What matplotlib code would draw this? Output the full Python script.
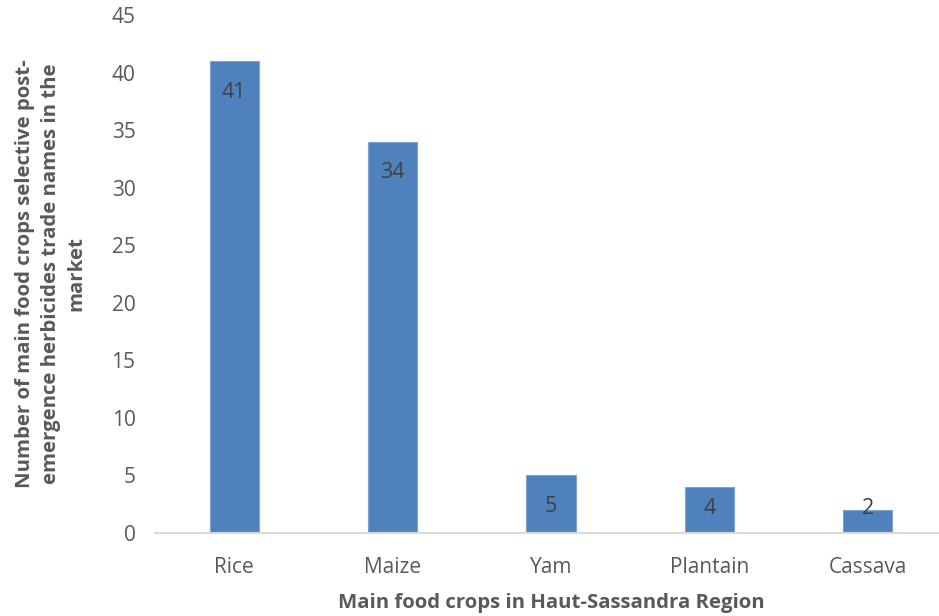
import matplotlib.pyplot as plt

crops = ["Rice", "Maize", "Yam", "Plantain", "Cassava"]
counts = [41, 34, 5, 4, 2]
yticks = list(range(0, 50, 5))

plt.rcParams['font.family'] = ['Open Sans', 'DejaVu Sans']

fig = plt.figure(figsize=(9.39, 6.16), dpi=100)
ax = fig.add_axes([0.165, 0.1347, 0.8435, 0.8409])

x = range(len(crops))
ax.bar(x, counts, width=0.31, color="#4F81BD", edgecolor="#7FA3D3", linewidth=0.8, zorder=2)

# value labels sit just inside the top of each bar, but never below ~2.2
for i, v in enumerate(counts):
    ax.text(i, max(v - 2.7, 2.17), str(v), ha="center", va="center",
            fontsize=15.5, color="#404040")

ax.set_xlim(-0.5, len(crops) - 0.5)
ax.set_ylim(0, 45)
ax.set_yticks(yticks)
ax.set_xticks(list(x))
ax.set_xticklabels(crops)

for side in ["top", "right", "left"]:
    ax.spines[side].set_visible(False)
ax.spines["bottom"].set_color("#D9D9D9")
ax.spines["bottom"].set_linewidth(1.5)

ax.tick_params(axis="both", length=0, labelsize=15, labelcolor="#595959")
ax.tick_params(axis="y", pad=14)
ax.tick_params(axis="x", pad=17)

ax.set_ylabel("Number of main food crops selective post-\nemergence herbicides trade names in the\nmarket",
              fontsize=14.7, fontweight="bold", color="#595959", linespacing=1.37, labelpad=18)
ax.set_xlabel("Main food crops in Haut-Sassandra Region",
              fontsize=14.7, fontweight="bold", color="#595959", labelpad=11)

fig.savefig("out.png", dpi=100)
